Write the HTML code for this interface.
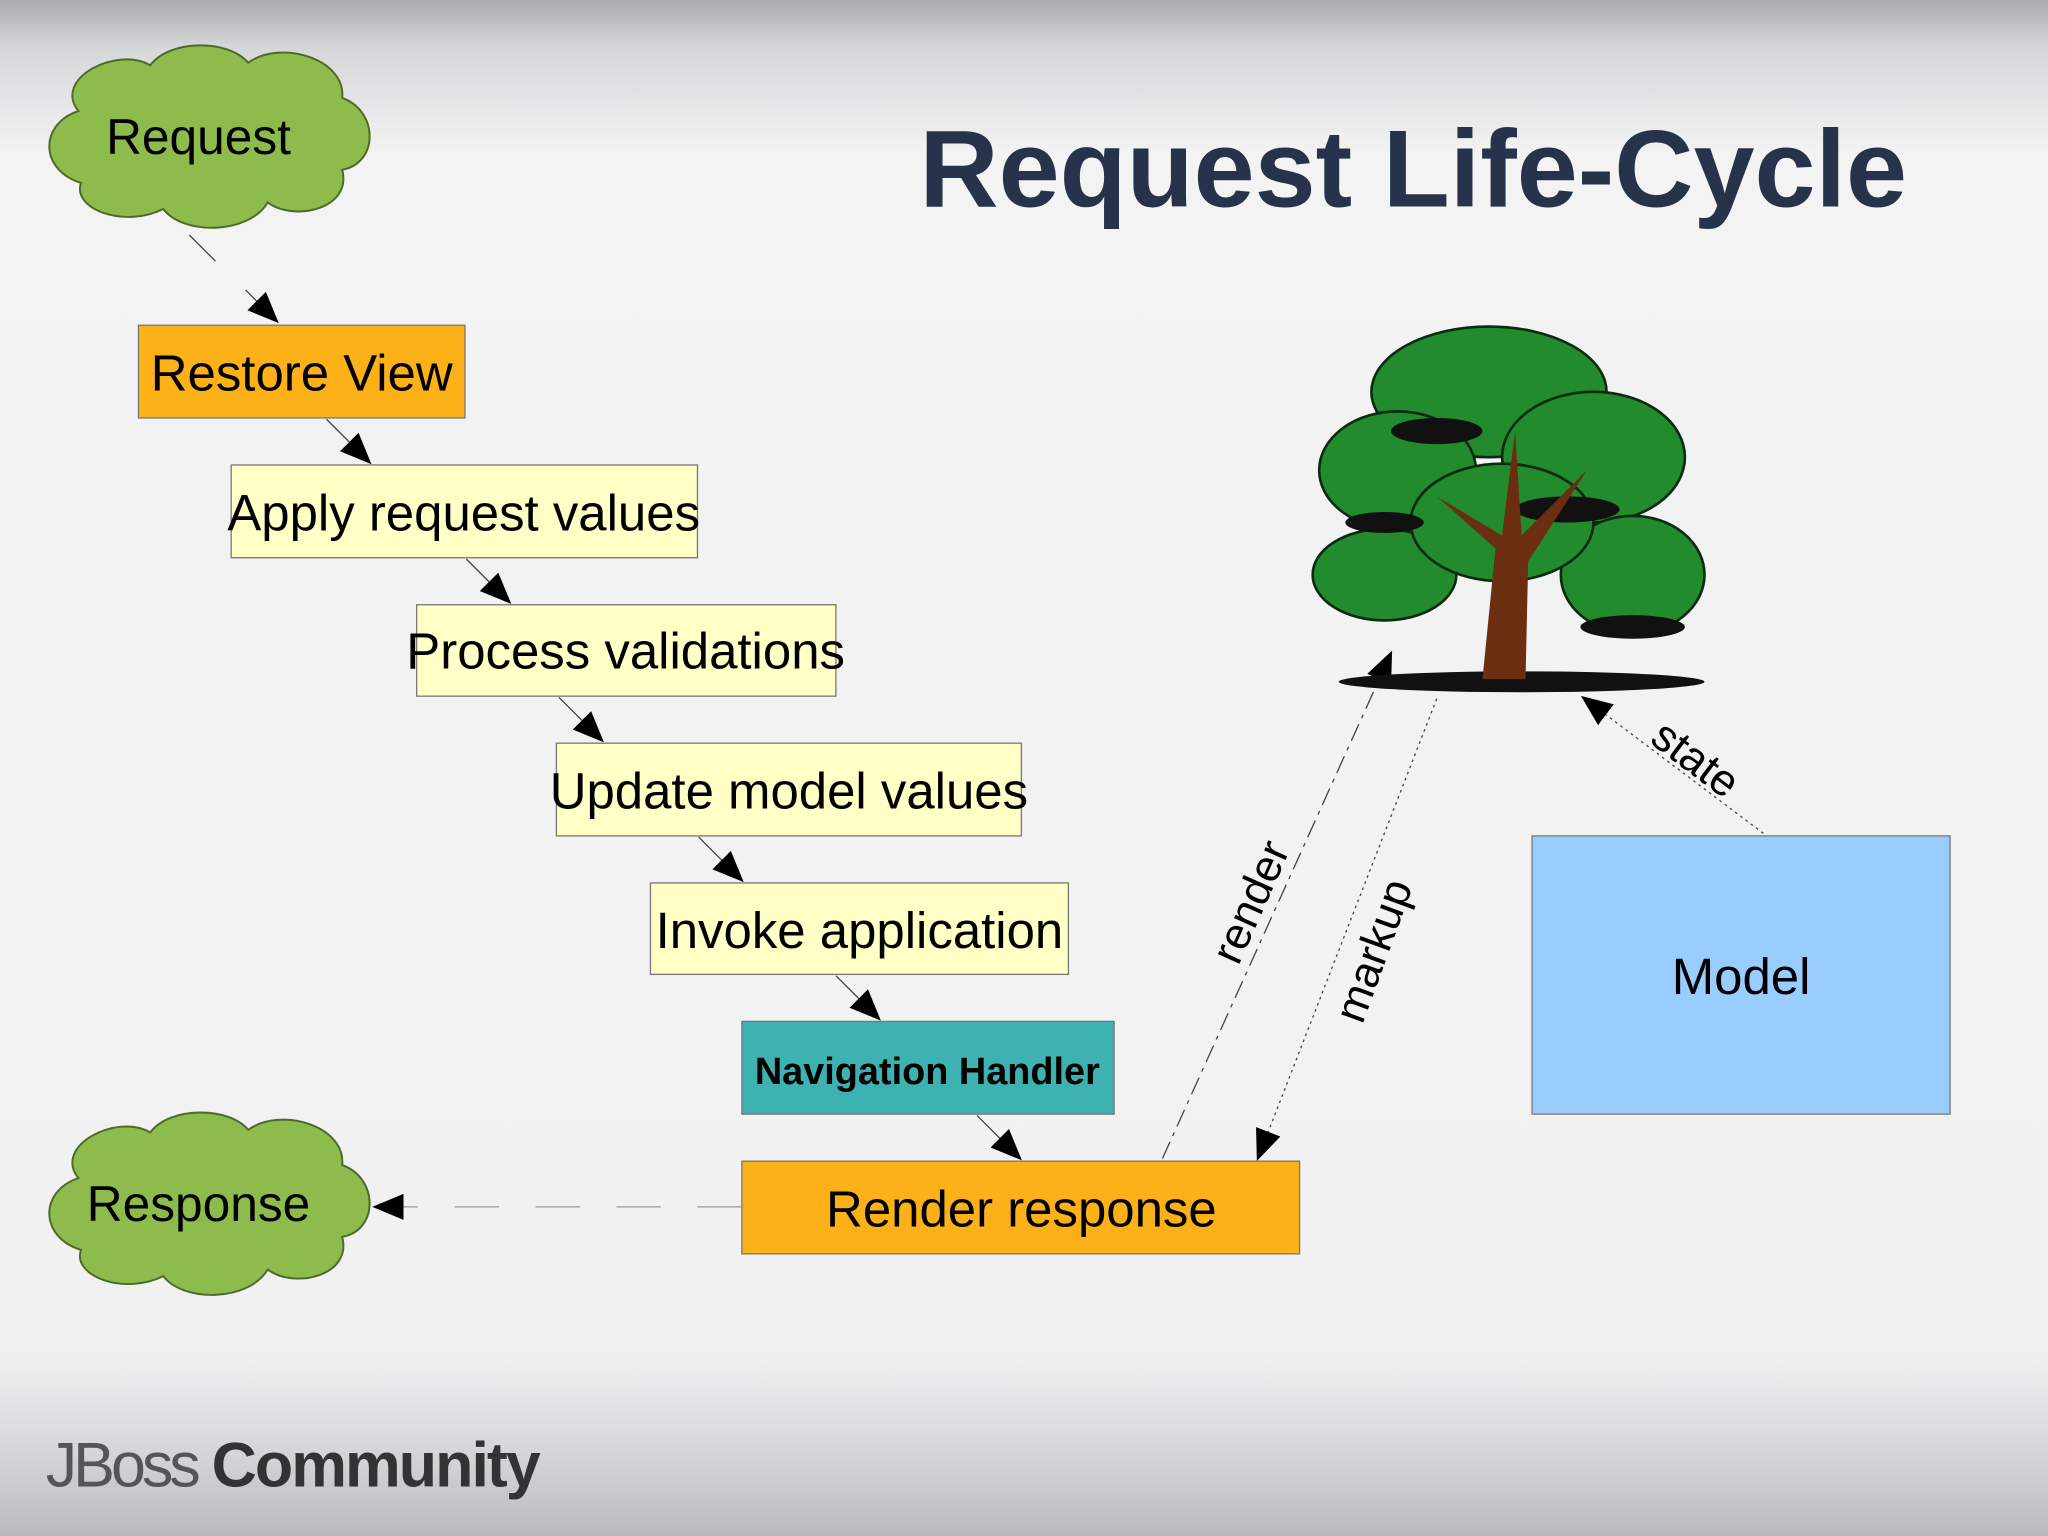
<!DOCTYPE html>
<html><head><meta charset="utf-8"><style>
html,body{margin:0;padding:0;width:2048px;height:1536px;overflow:hidden;background:#f4f4f4}
svg{display:block}
text{font-family:"Liberation Sans",sans-serif}
</style></head><body>
<svg width="2048" height="1536" viewBox="0 0 1568 1176" xmlns="http://www.w3.org/2000/svg">
<defs>
<linearGradient id="bg" x1="0" y1="0" x2="0" y2="1">
<stop offset="0" stop-color="#a9adb0"/>
<stop offset="0.03" stop-color="#d4d6d8"/>
<stop offset="0.1" stop-color="#f3f3f3"/>
<stop offset="0.88" stop-color="#f1f1f1"/>
<stop offset="0.93" stop-color="#dcdde0"/>
<stop offset="1" stop-color="#b8bbbe"/>
</linearGradient>
<marker id="ah2" markerWidth="24" markerHeight="20" refX="22" refY="10" orient="auto" markerUnits="userSpaceOnUse">
<path d="M0,0 L24,10 L0,20 z" fill="#000"/></marker>
</defs>
<rect width="1568" height="1176" fill="url(#bg)"/>
<text x="1082" y="158" font-size="84" font-weight="bold" fill="#26334a" text-anchor="middle">Request Life-Cycle</text>

<g fill="#8dbb4c" stroke="#4d6a2a" stroke-width="1.5">
<path d="M60,85 C40,60 90,35 115,50 C130,30 175,30 190,48 C215,30 265,45 262,75 C290,85 290,125 262,130 C270,160 225,170 205,155 C190,180 140,180 125,160 C95,175 55,160 62,140 C30,130 30,95 60,85 z"/>
<path d="M60,902 C40,877 90,852 115,867 C130,847 175,847 190,865 C215,847 265,862 262,892 C290,902 290,942 262,947 C270,977 225,987 205,972 C190,997 140,997 125,977 C95,992 55,977 62,957 C30,947 30,912 60,902 z"/>
</g>
<text x="152" y="118" font-size="38" text-anchor="middle">Request</text>
<text x="152" y="935" font-size="38" text-anchor="middle">Response</text>

<g stroke="#777" stroke-width="1">
<rect x="106" y="249" width="250" height="71" fill="#fbb117"/>
<rect x="177" y="356" width="357" height="71" fill="#ffffc6"/>
<rect x="319" y="463" width="321" height="70" fill="#ffffc6"/>
<rect x="426" y="569" width="356" height="71" fill="#ffffc6"/>
<rect x="498" y="676" width="320" height="70" fill="#ffffc6"/>
<rect x="568" y="782" width="285" height="71" fill="#3eb2b0"/>
<rect x="568" y="889" width="427" height="71" fill="#fbb117"/>
<rect x="1173" y="640" width="320" height="213" fill="#99ccff"/>
</g>
<g font-size="39" text-anchor="middle">
<text x="231" y="299">Restore View</text>
<text x="355" y="406">Apply request values</text>
<text x="479" y="512">Process validations</text>
<text x="604" y="619">Update model values</text>
<text x="658" y="726">Invoke application</text>
<text x="710" y="830" font-size="29" font-weight="bold">Navigation Handler</text>
<text x="782" y="939">Render response</text>
<text x="1333" y="761">Model</text>
</g>

<g stroke="#444" stroke-width="1" fill="none" marker-end="url(#ah2)">
<path d="M145,180 L165,200 M188,222 L212,246"/>
<line x1="250" y1="321" x2="283" y2="354"/>
<line x1="357" y1="428" x2="390" y2="461"/>
<line x1="428" y1="534" x2="461" y2="567"/>
<line x1="535" y1="641" x2="568" y2="674"/>
<line x1="640" y1="747" x2="673" y2="780"/>
<line x1="748" y1="854" x2="781" y2="887"/>
<line x1="568" y1="924" x2="287" y2="924" stroke-dasharray="34,28" stroke="#999"/>
<line x1="890" y1="887" x2="1065" y2="500" stroke-dasharray="14,5,3,5"/>
<line x1="1100" y1="535" x2="963" y2="887" stroke-dasharray="2,3"/>
<line x1="1350" y1="638" x2="1212" y2="534" stroke-dasharray="2,3"/>
</g>
<g font-size="34">
<text transform="translate(948,740) rotate(-66)">render</text>
<text transform="translate(1043,785) rotate(-70)">markup</text>
<text transform="translate(1262,568) rotate(37)">state</text>
</g>

<g>
<ellipse cx="1165" cy="522" rx="140" ry="8" fill="#111"/>
<g fill="#218b2e" stroke="#0b2a10" stroke-width="2">
<ellipse cx="1140" cy="300" rx="90" ry="50"/>
<ellipse cx="1070" cy="360" rx="60" ry="45"/>
<ellipse cx="1220" cy="350" rx="70" ry="50"/>
<ellipse cx="1060" cy="440" rx="55" ry="35"/>
<ellipse cx="1250" cy="440" rx="55" ry="45"/>
<ellipse cx="1150" cy="400" rx="70" ry="45"/>
</g>
<g fill="#111">
<ellipse cx="1100" cy="330" rx="35" ry="10"/>
<ellipse cx="1200" cy="390" rx="40" ry="10"/>
<ellipse cx="1060" cy="400" rx="30" ry="8"/>
<ellipse cx="1250" cy="480" rx="40" ry="9"/>
</g>
<path d="M1135,520 L1145,420 L1100,380 L1150,410 L1160,330 L1165,410 L1215,360 L1170,430 L1168,520 z" fill="#6b2e10"/>
</g>

<text x="35" y="1138" font-size="48" fill="#555" letter-spacing="-3">JBoss</text>
<text x="162" y="1138" font-size="48" font-weight="bold" fill="#333" letter-spacing="-1.5">Community</text>
</svg>
</body></html>
